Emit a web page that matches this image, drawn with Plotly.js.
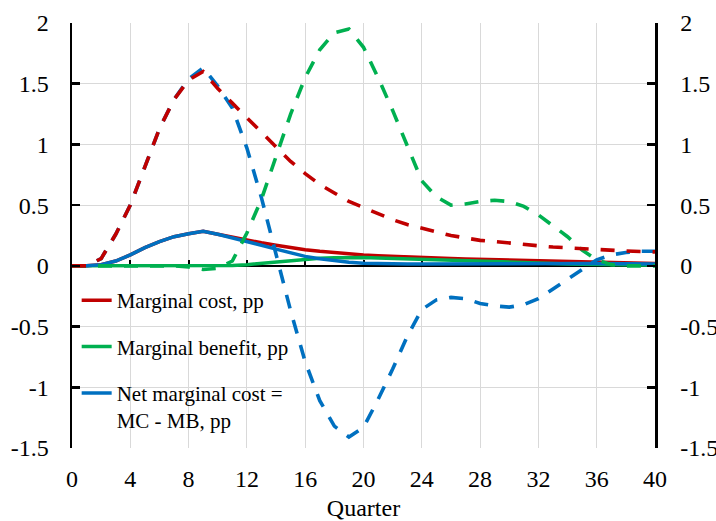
<!DOCTYPE html>
<html>
<head>
<meta charset="utf-8">
<script src="https://cdn.plot.ly/plotly-3.0.1.min.js"></script>
<style>
html,body{margin:0;padding:0;background:#fff;}
#chart{width:716px;height:521px;}
</style>
</head>
<body>
<div id="chart"></div>
<script>
var quarters = [0,1,2,3,4,5,6,7,8,9,10,11,12,13,14,15,16,17,18,19,20,21,22,23,24,25,26,27,28,29,30,31,32,33,34,35,36,37,38,39,40];

// Dashed series
var mcDash  = [0,0,0.06,0.26,0.5,0.82,1.13,1.37,1.53,1.6,1.46,1.34,1.22,1.09,0.97,0.86,0.76,0.67,0.6,0.53,0.48,0.43,0.38,0.34,0.31,0.28,0.25,0.23,0.21,0.2,0.186,0.175,0.165,0.155,0.147,0.14,0.133,0.127,0.122,0.118,0.115];
var mbDash  = [0,0,0,0,0,0,0,0,-0.01,-0.03,-0.02,0.04,0.27,0.55,0.9,1.25,1.55,1.78,1.92,1.95,1.8,1.55,1.28,0.98,0.7,0.57,0.5,0.51,0.53,0.54,0.53,0.49,0.42,0.33,0.24,0.13,0.05,0.01,0,0,0];
var nmcDash = [0,0,0.06,0.26,0.5,0.82,1.13,1.37,1.54,1.63,1.48,1.3,0.97,0.56,0.08,-0.37,-0.79,-1.11,-1.32,-1.41,-1.33,-1.1,-0.85,-0.58,-0.36,-0.28,-0.26,-0.27,-0.31,-0.33,-0.34,-0.32,-0.27,-0.19,-0.11,-0.03,0.05,0.09,0.11,0.12,0.12];

// Solid series
var mcSolid  = [0,0,0.01,0.04,0.09,0.15,0.2,0.24,0.265,0.285,0.26,0.235,0.21,0.19,0.17,0.15,0.133,0.12,0.108,0.098,0.09,0.083,0.077,0.072,0.068,0.064,0.06,0.057,0.054,0.051,0.048,0.045,0.042,0.039,0.036,0.033,0.03,0.027,0.025,0.022,0.02];
var mbSolid  = [0,0,0,0,0,0,0,0,0,0,0,0.003,0.01,0.02,0.032,0.045,0.055,0.062,0.067,0.069,0.068,0.065,0.061,0.057,0.052,0.047,0.042,0.038,0.034,0.03,0.027,0.024,0.021,0.018,0.016,0.013,0.011,0.009,0.007,0.005,0.004];
var nmcSolid = [0,0,0.01,0.04,0.09,0.15,0.2,0.24,0.265,0.285,0.26,0.232,0.2,0.17,0.138,0.105,0.078,0.058,0.041,0.029,0.022,0.018,0.016,0.015,0.016,0.017,0.018,0.019,0.02,0.021,0.021,0.021,0.021,0.021,0.02,0.02,0.019,0.018,0.018,0.017,0.016];

// Axis tick labels
var yTickVals = [-1.5,-1,-0.5,0,0.5,1,1.5,2];
var yTickText = ["-1.5","-1","-0.5","0","0.5","1","1.5","2"];
var xTickVals = [0,4,8,12,16,20,24,28,32,36,40];
var xTickText = ["0","4","8","12","16","20","24","28","32","36","40"];

var names = ["Marginal cost, pp", "Marginal benefit, pp", "Net marginal cost =<br>MC - MB, pp"];
var RED = "#C00000", GREEN = "#00B050", BLUE = "#0070C0";
var DASH = "14px,12px";

function solid(y, color, name, rank, grp) {
  return {x: quarters, y: y, type: "scatter", mode: "lines", name: name,
    line: {color: color, width: 3.5}, legendrank: rank, legendgroup: grp, showlegend: true, hoverinfo: "skip"};
}
function dashed(y, color) {
  return {x: quarters, y: y, type: "scatter", mode: "lines", showlegend: false, xaxis: "x2", yaxis: "y2",
    line: {color: color, width: 3.6, dash: DASH}, hoverinfo: "skip"};
}

var data = [
  solid(mcSolid, RED, names[0], 1, "a"),
  solid(mbSolid, GREEN, names[1], 2, "b"),
  solid(nmcSolid, BLUE, names[2], 3, "c"),
  dashed(nmcDash, BLUE),
  dashed(mbDash, GREEN),
  dashed(mcDash, RED)
];

var FONT = "Liberation Serif";
var GRID = "#d9d9d9";
function tf() { return {family: FONT, size: 24, color: "#000"}; }

var layout = {
  width: 716, height: 521,
  margin: {l: 72, r: 61, t: 23, b: 73},
  paper_bgcolor: "#fff", plot_bgcolor: "#fff",
  font: {family: FONT, color: "#000", size: 24},
  showlegend: true,
  legend: {x: 0.008, y: 0.395, xanchor: "left", yanchor: "top", bgcolor: "rgba(0,0,0,0)",
    font: {family: FONT, size: 21, color: "#000"}, valign: "top", tracegroupgap: 16},
  xaxis: {range: [0, 40], tickmode: "array", tickvals: xTickVals, ticktext: xTickText, showgrid: true, gridcolor: GRID, gridwidth: 1,
    zeroline: false, showline: false, ticks: "", ticklabelstandoff: 14, tickfont: tf(),
    title: {text: "Quarter", font: tf(), standoff: 18}},
  yaxis: {range: [-1.5, 2], tickmode: "array", tickvals: yTickVals, ticktext: yTickText, showgrid: true, gridcolor: GRID, gridwidth: 1,
    zeroline: false, showline: true, linecolor: "#000", linewidth: 2.5, ticks: "inside", ticklen: 8, tickwidth: 2.5, tickcolor: "#000",
    ticklabelstandoff: 16, tickfont: tf()},
  yaxis2: {range: [-1.5, 2], overlaying: "y", side: "right", anchor: "x", tickmode: "array", tickvals: yTickVals, ticktext: yTickText, showgrid: false,
    zeroline: false, showline: true, linecolor: "#000", linewidth: 2.5, ticks: "inside", ticklen: 8, tickwidth: 2.5, tickcolor: "#000",
    ticklabelstandoff: 18, tickfont: tf()},
  xaxis2: {range: [0, 40], overlaying: "x", anchor: "free", position: 1.5/3.5, tickmode: "array", tickvals: xTickVals,
    showgrid: false, zeroline: false, showline: true, linecolor: "#000", linewidth: 2.5, ticks: "inside", ticklen: 5,
    tickwidth: 2, tickcolor: "#000", showticklabels: false, layer: "below traces"}
};

Plotly.newPlot("chart", data, layout, {staticPlot: true, displayModeBar: false});
</script>
</body>
</html>
